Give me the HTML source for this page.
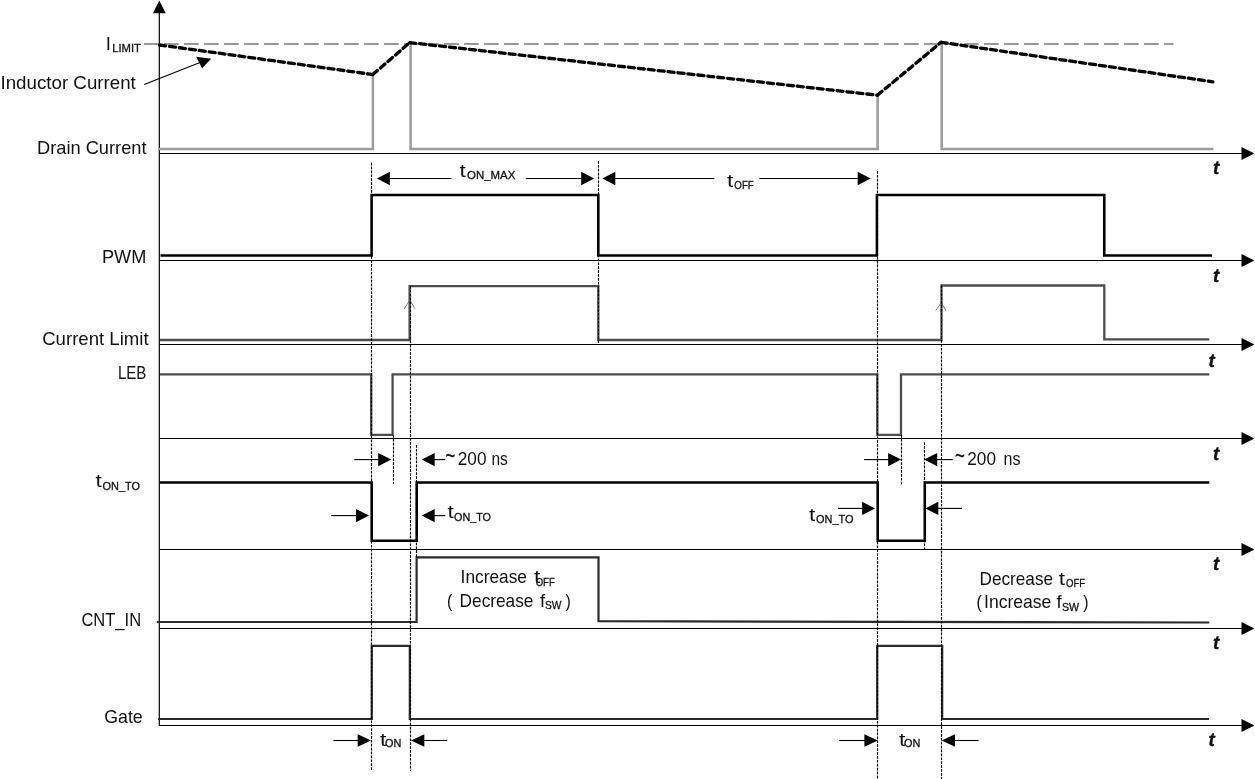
<!DOCTYPE html>
<html>
<head>
<meta charset="utf-8">
<title>Timing diagram</title>
<style>
html,body{margin:0;padding:0;background:#fff;}
body{width:1255px;height:779px;overflow:hidden;}
svg{display:block;filter:grayscale(1);}
text{font-family:"Liberation Sans",sans-serif;fill:#111;}
.lb{font-size:18.6px;}
.sb{font-size:11.4px;stroke:#111;stroke-width:0.3;}
.tt{font-size:18.7px;font-weight:bold;font-style:italic;fill:#111;stroke:#111;stroke-width:0.35;}
.ax{stroke:#000;stroke-width:1.2;fill:none;}
.ah{fill:#000;stroke:none;}
.dot{stroke:#000;stroke-width:1.15;fill:none;stroke-dasharray:2.7 1.2;}
.thin{stroke:#000;stroke-width:1.1;fill:none;}
.blk{stroke:#000;stroke-width:2.55;fill:none;stroke-linejoin:miter;}
.dg{stroke:#4c4c4c;stroke-width:2.3;fill:none;stroke-linejoin:miter;}
.gr{stroke:#9c9c9c;stroke-width:2.5;fill:none;stroke-linejoin:miter;}
</style>
</head>
<body>
<svg width="1255" height="779" viewBox="0 0 1255 779">
<rect width="1255" height="779" fill="#fff"/>

<!-- ===== axes ===== -->
<g id="axes">
<line class="ax" x1="159.3" y1="10" x2="159.3" y2="726.1"/>
<polygon class="ah" points="159.3,0.4 152.9,13.2 165.7,13.2"/>
<line class="ax" x1="159.5" y1="153.5" x2="1243" y2="153.5"/>
<line class="ax" x1="159.5" y1="260.5" x2="1243" y2="260.5"/>
<line class="ax" x1="159.5" y1="344.5" x2="1243" y2="344.5"/>
<line class="ax" x1="159.5" y1="438.5" x2="1243" y2="438.5"/>
<line class="ax" x1="159.5" y1="549.5" x2="1243" y2="549.5"/>
<line class="ax" x1="159.5" y1="628.5" x2="1243" y2="628.5"/>
<line class="ax" x1="159.5" y1="725.5" x2="1243" y2="725.5"/>
<polygon class="ah" points="1254.4,153.5 1241.5,147.1 1241.5,159.9"/>
<polygon class="ah" points="1254.4,260.5 1241.5,254.1 1241.5,266.9"/>
<polygon class="ah" points="1254.4,344.5 1241.5,338.1 1241.5,350.9"/>
<polygon class="ah" points="1254.4,438.5 1241.5,432.1 1241.5,444.9"/>
<polygon class="ah" points="1254.4,549.5 1241.5,543.1 1241.5,555.9"/>
<polygon class="ah" points="1254.4,628.5 1241.5,622.1 1241.5,634.9"/>
<polygon class="ah" points="1254.4,725.5 1241.5,719.1 1241.5,731.9"/>
</g>


<!-- ===== row 1: currents ===== -->
<g id="row1">
<line x1="144" y1="44" x2="1173.5" y2="44" stroke="#999" stroke-width="1.9" stroke-dasharray="14.7 5.3"/>
<path class="gr" d="M158,149 H372.9 V74.5 M410.6,43 V149 H877.6 V95 M941.7,43 V149 H1213.5"/>
<g stroke="#000" stroke-width="3.3" fill="none" stroke-dasharray="6.1 3.9" stroke-linecap="round">
<path d="M159.6,45 L372.8,74.5"/>
<path d="M372.8,74.5 L409.7,42.6"/>
<path d="M409.7,42.6 L877.4,95.2"/>
<path d="M877.4,95.2 L941.1,42.3"/>
<path d="M941.1,42.3 L1213,81.8"/>
</g>
<line class="thin" x1="144.2" y1="84.6" x2="200" y2="62.6"/>
<polygon class="ah" points="211.2,58.8 196.2,56.7 202,68.2"/>
</g>

<!-- ===== row 2: PWM ===== -->
<path class="blk" d="M160.5,255.5 H371.6 V195 H598.3 V255.5 H876.9 V195 H1104.3 V255.5 H1212"/>

<!-- ===== row 3: Current Limit ===== -->
<path class="dg" d="M160,340 H409.6 V286.2 H598.3 V340 H941.5 V285.5 H1104.3 V339.4 H1209.3"/>
<path d="M404.3,308.8 L409.8,300 L415,308.8 M935.8,310.6 L941.3,302.5 L945.9,310.6" stroke="#555" stroke-width="0.8" fill="none"/>

<!-- ===== row 4: LEB ===== -->
<path class="dg" d="M160,374.3 H371.2 V434.8 H392.6 V374.3 H877.3 V434.8 H901 V374.3 H1209.3"/>

<!-- ===== row 5: tON_TO ===== -->
<path class="blk" d="M160,482.4 H371.7 V540.8 H416.7 V482.4 H877.7 V540.8 H924.8 V482.4 H1209.3"/>

<!-- ===== row 6: CNT_IN ===== -->
<path class="dg" d="M156.8,622 H416.6 V557.4 H598.5 V621.2 L1209.3,622.5" style="stroke:#2b2b2b;stroke-width:2.2"/>

<!-- ===== row 7: Gate ===== -->
<path class="dg" d="M158,719 H371.8 V645.8 H409.8 V719 H877.2 V645.8 H942.2 V719 H1209" style="stroke:#2b2b2b;stroke-width:2.2"/>

<!-- ===== dotted guides ===== -->
<g id="guides">
<line class="dot" x1="371.5" y1="162.7" x2="371.5" y2="771"/>
<line class="dot" x1="410.5" y1="286" x2="410.5" y2="771"/>
<line class="dot" x1="598.5" y1="161" x2="598.5" y2="344"/>
<line class="dot" x1="393.5" y1="435" x2="393.5" y2="483.8"/>
<line class="dot" x1="416.5" y1="445" x2="416.5" y2="557"/>
<line class="dot" x1="877.5" y1="171" x2="877.5" y2="779"/>
<line class="dot" x1="941.5" y1="285.5" x2="941.5" y2="779"/>
<line class="dot" x1="901.5" y1="435" x2="901.5" y2="485.8"/>
<line class="dot" x1="924.5" y1="442.2" x2="924.5" y2="549"/>
</g>

<!-- ===== dimension arrows ===== -->
<g id="dims">
<line class="thin" x1="389.0" y1="178.5" x2="451.5" y2="178.5"/>
<polygon class="ah" points="376.9,178.5 389.9,171.8 389.9,185.2"/>
<line class="thin" x1="525.8" y1="178.5" x2="582.0" y2="178.5"/>
<polygon class="ah" points="594.2,178.5 581.2,171.8 581.2,185.2"/>
<line class="thin" x1="615.0" y1="178.5" x2="714.3" y2="178.5"/>
<polygon class="ah" points="602.3,178.5 615.3,171.8 615.3,185.2"/>
<line class="thin" x1="759.3" y1="178.5" x2="858.5" y2="178.5"/>
<polygon class="ah" points="870.7,178.5 857.7,171.8 857.7,185.2"/>
<line class="thin" x1="354.3" y1="459.6" x2="379.5" y2="459.6"/>
<polygon class="ah" points="391.2,459.6 378.2,452.9 378.2,466.3"/>
<line class="thin" x1="434.0" y1="459.6" x2="445.3" y2="459.6"/>
<polygon class="ah" points="421.7,459.6 434.7,452.9 434.7,466.3"/>
<line class="thin" x1="331.2" y1="515.6" x2="357.0" y2="515.6"/>
<polygon class="ah" points="369.0,515.6 356.0,508.9 356.0,522.3"/>
<line class="thin" x1="434.0" y1="515.6" x2="445.3" y2="515.6"/>
<polygon class="ah" points="421.7,515.6 434.7,508.9 434.7,522.3"/>
<line class="thin" x1="864.1" y1="459.6" x2="889.5" y2="459.6"/>
<polygon class="ah" points="901.1,459.6 888.1,452.9 888.1,466.3"/>
<line class="thin" x1="936.5" y1="459.6" x2="952.7" y2="459.6"/>
<polygon class="ah" points="924.2,459.6 937.2,452.9 937.2,466.3"/>
<line class="thin" x1="838.0" y1="508.4" x2="863.5" y2="508.4"/>
<polygon class="ah" points="875.1,508.4 862.1,501.7 862.1,515.1"/>
<line class="thin" x1="937.5" y1="508.4" x2="962.0" y2="508.4"/>
<polygon class="ah" points="925.3,508.4 938.3,501.7 938.3,515.1"/>
<line class="thin" x1="333.5" y1="740.5" x2="358.5" y2="740.5"/>
<polygon class="ah" points="371.0,740.5 357.7,734.2 357.7,746.8"/>
<line class="thin" x1="423.0" y1="740.5" x2="447.3" y2="740.5"/>
<polygon class="ah" points="411.0,740.5 424.3,734.2 424.3,746.8"/>
<line class="thin" x1="839.3" y1="740.5" x2="865.0" y2="740.5"/>
<polygon class="ah" points="877.7,740.5 864.4,734.2 864.4,746.8"/>
<line class="thin" x1="954.0" y1="740.5" x2="978.5" y2="740.5"/>
<polygon class="ah" points="941.7,740.5 955.0,734.2 955.0,746.8"/>
</g>

<!-- ===== text ===== -->
<g id="labels">
<text class="lb" x="105.7" y="50">I</text>
<text class="sb" x="112.2" y="51.9" textLength="28.8" lengthAdjust="spacingAndGlyphs">LIMIT</text>
<text class="lb" x="0.5" y="89.4" textLength="135.3" lengthAdjust="spacingAndGlyphs">Inductor Current</text>
<text class="lb" x="37" y="154.1" textLength="109.5" lengthAdjust="spacingAndGlyphs">Drain Current</text>
<text class="lb" x="102" y="262.5" textLength="44.3" lengthAdjust="spacingAndGlyphs">PWM</text>
<text class="lb" x="42.2" y="344.5" textLength="106.4" lengthAdjust="spacingAndGlyphs">Current Limit</text>
<text class="lb" x="118" y="378.7" textLength="28.4" lengthAdjust="spacingAndGlyphs">LEB</text>
<text class="lb" x="95.6" y="487" textLength="6.3" lengthAdjust="spacingAndGlyphs">t</text>
<text class="sb" x="102.5" y="489.5" textLength="37.5" lengthAdjust="spacingAndGlyphs">ON_TO</text>
<text class="lb" x="81.4" y="626" textLength="59.7" lengthAdjust="spacingAndGlyphs">CNT_IN</text>
<text class="lb" x="104.2" y="722.8" textLength="38.5" lengthAdjust="spacingAndGlyphs">Gate</text>

<!-- dimension labels -->
<text class="lb" x="459.4" y="176.7" textLength="6.3" lengthAdjust="spacingAndGlyphs">t</text>
<text class="sb" x="467" y="179.1" textLength="48.3" lengthAdjust="spacingAndGlyphs">ON_MAX</text>
<text class="lb" x="727.1" y="187" textLength="6.3" lengthAdjust="spacingAndGlyphs">t</text>
<text class="sb" x="734.3" y="188.7" textLength="19.5" lengthAdjust="spacingAndGlyphs">OFF</text>

<text class="lb" x="445.6" y="463.6" textLength="9.8" lengthAdjust="spacingAndGlyphs" style="font-size:23px;stroke:#111;stroke-width:0.3">~</text>
<text class="lb" x="457.8" y="465" textLength="28.7" lengthAdjust="spacingAndGlyphs">200</text>
<text class="lb" x="491.5" y="465" textLength="16.3" lengthAdjust="spacingAndGlyphs">ns</text>
<text class="lb" x="955" y="463.6" textLength="9.8" lengthAdjust="spacingAndGlyphs" style="font-size:23px;stroke:#111;stroke-width:0.3">~</text>
<text class="lb" x="967.3" y="465" textLength="28.7" lengthAdjust="spacingAndGlyphs">200</text>
<text class="lb" x="1003.5" y="465" textLength="17" lengthAdjust="spacingAndGlyphs">ns</text>

<text class="lb" x="447.4" y="518" textLength="6.3" lengthAdjust="spacingAndGlyphs">t</text>
<text class="sb" x="454" y="520.5" textLength="37" lengthAdjust="spacingAndGlyphs">ON_TO</text>
<text class="lb" x="808.9" y="520.8" textLength="6.3" lengthAdjust="spacingAndGlyphs">t</text>
<text class="sb" x="816" y="523.3" textLength="37.5" lengthAdjust="spacingAndGlyphs">ON_TO</text>

<text class="lb" x="460.6" y="582.9" textLength="66.3" lengthAdjust="spacingAndGlyphs">Increase</text>
<text class="lb" x="534.0" y="582.9" textLength="6.3" lengthAdjust="spacingAndGlyphs">t</text>
<text class="sb" x="535.7" y="585.6" textLength="19.1" lengthAdjust="spacingAndGlyphs">OFF</text>
<text class="lb" x="446.9" y="606.5" textLength="5.3" lengthAdjust="spacingAndGlyphs">(</text>
<text class="lb" x="459.6" y="606.5" textLength="73.8" lengthAdjust="spacingAndGlyphs">Decrease</text>
<text class="lb" x="540" y="606.5">f</text>
<text class="sb" x="545" y="609.2" textLength="16.5" lengthAdjust="spacingAndGlyphs">SW</text>
<text class="lb" x="565.4" y="606.5" textLength="5.3" lengthAdjust="spacingAndGlyphs">)</text>

<text class="lb" x="979.6" y="584.5" textLength="73.4" lengthAdjust="spacingAndGlyphs">Decrease</text>
<text class="lb" x="1058.7" y="584.5" textLength="6.3" lengthAdjust="spacingAndGlyphs">t</text>
<text class="sb" x="1066" y="587" textLength="19.1" lengthAdjust="spacingAndGlyphs">OFF</text>
<text class="lb" x="976.6" y="608.4" textLength="5.3" lengthAdjust="spacingAndGlyphs">(</text>
<text class="lb" x="984" y="608.4" textLength="67.4" lengthAdjust="spacingAndGlyphs">Increase</text>
<text class="lb" x="1056.4" y="608.4">f</text>
<text class="sb" x="1062" y="611" textLength="17.2" lengthAdjust="spacingAndGlyphs">SW</text>
<text class="lb" x="1083.3" y="608.4" textLength="5.3" lengthAdjust="spacingAndGlyphs">)</text>

<text class="lb" x="379.9" y="746" textLength="6.3" lengthAdjust="spacingAndGlyphs">t</text>
<text class="sb" x="385" y="747.1" textLength="16.3" lengthAdjust="spacingAndGlyphs">ON</text>
<text class="lb" x="898.9" y="746" textLength="6.3" lengthAdjust="spacingAndGlyphs">t</text>
<text class="sb" x="904" y="747.2" textLength="16.3" lengthAdjust="spacingAndGlyphs">ON</text>

<text class="tt" x="1213" y="173.7">t</text>
<text class="tt" x="1213" y="282">t</text>
<text class="tt" x="1208.5" y="366.9">t</text>
<text class="tt" x="1213" y="460.2">t</text>
<text class="tt" x="1213" y="569.5">t</text>
<text class="tt" x="1213" y="648.9">t</text>
<text class="tt" x="1208.5" y="746">t</text>
</g>

</svg>
</body>
</html>
